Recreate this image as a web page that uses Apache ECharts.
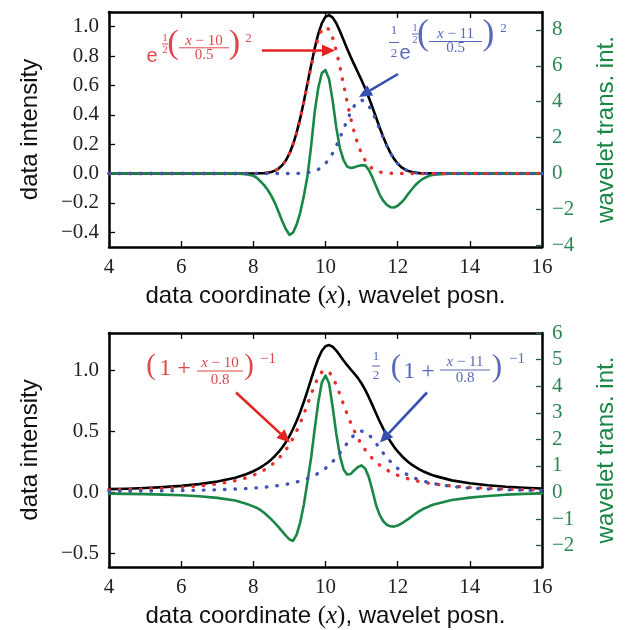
<!DOCTYPE html>
<html><head><meta charset="utf-8">
<script src="https://cdn.jsdelivr.net/npm/echarts@6/dist/echarts.min.js"></script>
<style>html,body{margin:0;padding:0;background:#fff}#c{width:630px;height:630px}</style>
</head><body><div id="c"></div>
<script>
// ---------- data ----------
const xs = [4,4.5,5,5.5,6,6.5,7,7.5,7.8,
 8,8.1,8.2,8.3,8.4,8.5,8.6,8.7,8.8,8.9,
 9,9.1,9.2,9.3,9.4,9.5,9.6,9.7,9.8,9.9,
 10,10.1,10.2,10.3,10.4,10.5,10.6,10.7,10.8,10.9,
 11,11.1,11.2,11.3,11.4,11.5,11.6,11.7,11.8,11.9,
 12,12.1,12.2,12.3,12.4,12.5,12.6,12.7,12.8,12.9,
 13,13.5,14,14.5,15,15.5,16];

// top panel (Gaussian peaks)
const topBlack = [0,0,0,0,0,0,0,0,0,
 0.000,0.001,0.002,0.003,0.006,0.011,0.020,0.034,0.056,0.089,
 0.135,0.199,0.279,0.377,0.490,0.613,0.736,0.852,0.951,1.024,
 1.068,1.079,1.062,1.023,0.969,0.910,0.850,0.793,0.740,0.688,
 0.635,0.579,0.518,0.452,0.383,0.314,0.249,0.191,0.141,0.100,
 0.068,0.044,0.028,0.017,0.010,0.006,0.003,0.002,0.001,0.001,
 0,0,0,0,0,0,0];
const topRed = [0,0,0,0,0,0,0,0,0,
 0.000,0.001,0.002,0.003,0.006,0.011,0.020,0.034,0.056,0.089,
 0.135,0.198,0.278,0.375,0.487,0.607,0.726,0.835,0.923,0.980,
 1.000,0.980,0.923,0.835,0.726,0.607,0.487,0.375,0.278,0.198,
 0.135,0.089,0.056,0.034,0.020,0.011,0.006,0.003,0.002,0.001,
 0,0,0,0,0,0,0,0,0,0,
 0,0,0,0,0,0,0];
const topBlue = [0,0,0,0,0,0,0,0,0,
 0,0,0,0,0,0,0,0,0,0,
 0.000,0.001,0.001,0.002,0.003,0.006,0.010,0.017,0.028,0.044,
 0.068,0.099,0.139,0.188,0.243,0.303,0.363,0.418,0.462,0.490,
 0.500,0.490,0.462,0.418,0.363,0.303,0.243,0.188,0.139,0.099,
 0.068,0.044,0.028,0.017,0.010,0.006,0.003,0.002,0.001,0.001,
 0,0,0,0,0,0,0];
const topGreen = [0,0,0,0,0,0,0,0,-0.04,
 -0.13,-0.25,-0.45,-0.65,-0.92,-1.25,-1.65,-2.15,-2.65,-3.10,
 -3.42,-3.30,-2.85,-2.18,-1.25,-0.15,1.50,3.42,4.78,5.60,
 5.76,5.25,4.03,2.54,1.40,0.75,0.38,0.30,0.34,0.42,
 0.46,0.45,0.20,-0.22,-0.70,-1.18,-1.52,-1.75,-1.88,-1.90,
 -1.80,-1.62,-1.40,-1.12,-0.87,-0.63,-0.45,-0.30,-0.20,-0.12,
 -0.07,0,0,0,0,0,0];

// bottom panel (Lorentzian peaks)
const botBlack = [0.024,0.028,0.034,0.041,0.051,0.065,0.086,0.118,0.146,
 0.171,0.186,0.203,0.222,0.243,0.268,0.296,0.329,0.366,0.409,
 0.459,0.517,0.583,0.657,0.740,0.830,0.923,1.014,1.095,1.158,
 1.195,1.205,1.191,1.160,1.120,1.079,1.040,1.005,0.971,0.934,
 0.890,0.838,0.778,0.713,0.646,0.581,0.520,0.465,0.415,0.371,
 0.333,0.300,0.271,0.245,0.223,0.204,0.187,0.171,0.158,0.146,
 0.135,0.096,0.072,0.056,0.044,0.036,0.030];
const botRed = [0.018,0.021,0.025,0.031,0.039,0.050,0.066,0.093,0.117,
 0.138,0.151,0.165,0.181,0.200,0.222,0.246,0.275,0.308,0.346,
 0.390,0.441,0.500,0.566,0.640,0.719,0.800,0.877,0.941,0.985,
 1.000,0.985,0.941,0.877,0.800,0.719,0.640,0.566,0.500,0.441,
 0.390,0.346,0.308,0.275,0.246,0.222,0.200,0.181,0.165,0.151,
 0.138,0.127,0.117,0.108,0.100,0.093,0.087,0.081,0.076,0.071,
 0.066,0.050,0.039,0.031,0.025,0.021,0.018];
const botBlue = [0.006,0.007,0.009,0.010,0.013,0.015,0.019,0.025,0.029,
 0.033,0.035,0.038,0.040,0.043,0.046,0.050,0.054,0.058,0.063,
 0.069,0.075,0.083,0.091,0.100,0.111,0.123,0.137,0.154,0.173,
 0.195,0.221,0.250,0.283,0.320,0.360,0.400,0.438,0.471,0.492,
 0.500,0.492,0.471,0.438,0.400,0.360,0.320,0.283,0.250,0.221,
 0.195,0.173,0.154,0.137,0.123,0.111,0.100,0.091,0.083,0.075,
 0.069,0.046,0.033,0.025,0.019,0.015,0.013];
const botGreen = [-0.04,-0.05,-0.06,-0.08,-0.10,-0.14,-0.20,-0.30,-0.42,
 -0.52,-0.58,-0.66,-0.76,-0.88,-1.01,-1.15,-1.30,-1.46,-1.62,
 -1.76,-1.82,-1.58,-1.12,-0.45,0.40,1.30,2.38,3.40,4.15,
 4.40,4.10,3.20,2.20,1.38,0.87,0.68,0.70,0.84,0.96,
 1.02,0.90,0.58,0.08,-0.47,-0.84,-1.08,-1.21,-1.27,-1.28,
 -1.24,-1.17,-1.08,-0.99,-0.89,-0.79,-0.70,-0.62,-0.56,-0.50,
 -0.45,-0.28,-0.19,-0.13,-0.08,-0.05,-0.03];

// tick values
const xTicks = [4,6,8,10,12,14,16];
const topLeftTicks = [-0.4,-0.2,0,0.2,0.4,0.6,0.8,1.0];
const topRightTicks = [-4,-2,0,2,4,6,8];
const botLeftTicks = [-0.5,0,0.5,1.0];
const botRightTicks = [-2,-1,0,1,2,3,4,5,6];

// ---------- styling ----------
const GREEN = '#1a8746', GREEN_T = '#2b8752';
const RED = '#e8302e', BLUE = '#3f55b4';
const RED_T = '#e0474b', BLUE_T = '#5869bb';
const SERIF = 'Liberation Serif', SANS = 'Liberation Sans';
const minus = v => (v < 0 ? '\u2212' : '');
const f1 = v => minus(v) + Math.abs(v).toFixed(1);
const f0 = v => minus(v) + Math.abs(Math.round(v));
const pair = a => xs.map((x, i) => [x, a[i]]);

function xAx(g, pos, showName) {
  return {
    gridIndex: g, type: 'value', min: xTicks[0], max: xTicks[xTicks.length-1], interval: 2,
    position: pos,
    axisLine: {show: true, onZero: false, lineStyle: {color: '#000', width: 2.5}},
    axisTick: {show: true, inside: true, length: 6, lineStyle: {color: '#000', width: 1.3}},
    axisLabel: {show: pos === 'bottom', margin: 10, fontFamily: SERIF, fontSize: 21, color: '#222'},
    splitLine: {show: false},
    name: showName ? 'data coordinate {m|(}{i|x}{m|)}, wavelet posn.' : '',
    nameLocation: 'middle', nameGap: 37,
    nameTextStyle: {fontFamily: SANS, fontSize: 24, color: '#111',
      rich: {m: {fontFamily: SERIF, fontSize: 25, color: '#111'},
             i: {fontFamily: SERIF, fontStyle: 'italic', fontSize: 25, color: '#111'}}}
  };
}
function yAx(g, pos, min, max, ticks, fmt, name, color, gap) {
  return {
    gridIndex: g, type: 'value', min: min, max: max, position: pos,
    axisLine: {show: true, onZero: false, lineStyle: {color: '#000', width: 2.5}},
    axisTick: {show: true, inside: true, length: 6, customValues: ticks,
      lineStyle: {color: pos === 'right' ? '#245c3c' : '#000', width: 1.3}},
    axisLabel: {show: true, customValues: ticks, formatter: fmt, margin: 10,
      fontFamily: SERIF, fontSize: 21, color: color},
    splitLine: {show: false},
    name: name, nameLocation: 'middle', nameRotate: 90, nameGap: gap,
    nameTextStyle: {fontFamily: SANS, fontSize: 24, color: pos === 'right' ? GREEN : '#111'}
  };
}

// ---------- annotations ----------
const G = [];
function T(x, y, text, size, color, fam, italic) {
  G.push({type: 'text', x: x, y: y, silent: true, z: 100,
    style: {text: text, fontSize: size, fontFamily: fam || SERIF, fontStyle: italic ? 'italic' : 'normal',
      fill: color, align: 'center', verticalAlign: 'middle',
      rich: {i: {fontFamily: SERIF, fontStyle: 'italic', fontSize: size, fill: color}}}});
}
function Bar(x1, x2, y, color) {
  G.push({type: 'line', silent: true, z: 100, shape: {x1: x1, y1: y, x2: x2, y2: y}, style: {stroke: color, lineWidth: 1}});
}
function Paren(x, cy, h, ch, color) {
  const s = h / 0.9;
  T(x, cy - 0.11 * s, ch, s, color, SERIF);
}
function Arrow(x1, y1, x2, y2, color) {
  const dx = x2 - x1, dy = y2 - y1, L = Math.hypot(dx, dy), ux = dx / L, uy = dy / L;
  const h = 13, w = 6, bx = x2 - ux * h, by = y2 - uy * h;
  G.push({type: 'line', silent: true, z: 100, shape: {x1: x1, y1: y1, x2: bx, y2: by}, style: {stroke: color, lineWidth: 2.6}});
  G.push({type: 'polygon', silent: true, z: 100,
    shape: {points: [[x2, y2], [bx - uy * w, by + ux * w], [bx + uy * w, by - ux * w]]}, style: {fill: color}});
}

// top red: e^{1/2((x-10)/0.5)^2}
T(152, 56, 'e', 20, RED_T, SANS);
T(165, 38.5, '1', 11, RED_T); Bar(162, 168, 44, RED_T); T(165, 50, '2', 11, RED_T);
Paren(173, 48, 31, '(', RED_T);
T(204, 41.5, '{i|x} \u2212 10', 15, RED_T); Bar(179, 229, 47.8, RED_T); T(204, 55.5, '0.5', 15, RED_T);
Paren(234.5, 48, 31, ')', RED_T);
T(248.5, 38.5, '2', 13, RED_T);
Arrow(262, 50.5, 335, 50.5, '#e52521');

// top blue: 1/2 e^{1/2((x-11)/0.5)^2}
T(394, 31, '1', 13, BLUE_T); Bar(389, 399, 42.5, BLUE_T); T(394, 54, '2', 13, BLUE_T);
T(405, 53, 'e', 20, BLUE_T, SANS);
T(415, 28.5, '1', 10, BLUE_T); Bar(412, 418, 34, BLUE_T); T(415, 40, '2', 10, BLUE_T);
Paren(423, 39, 32, '(', BLUE_T);
T(455.5, 34.5, '{i|x} \u2212 11', 15, BLUE_T); Bar(429, 482, 41.5, BLUE_T); T(455.5, 48, '0.5', 15, BLUE_T);
Paren(488.5, 39, 32, ')', BLUE_T);
T(503.5, 29, '2', 13, BLUE_T);
Arrow(398, 74, 359, 97, '#3550b0');

// bottom red: (1 + (x-10)/0.8)^{-1}
Paren(151, 370, 26, '(', RED_T);
T(175, 368.6, '1 +', 24, RED_T);
T(220, 363.5, '{i|x} \u2212 10', 15, RED_T); Bar(197, 243, 371, RED_T); T(220, 380, '0.8', 15, RED_T);
Paren(249, 370, 26, ')', RED_T);
T(268, 359.5, '\u22121', 15, RED_T);
Arrow(236, 392.5, 290, 442.5, '#e52521');

// bottom blue: 1/2 (1 + (x-11)/0.8)^{-1}
T(376, 356.5, '1', 13, BLUE_T); Bar(372, 380, 366, BLUE_T); T(376, 376, '2', 13, BLUE_T);
Paren(396, 371, 28, '(', BLUE_T);
T(419, 371.9, '1 +', 24, BLUE_T);
T(465, 362.5, '{i|x} \u2212 11', 15, BLUE_T); Bar(440, 490, 370, BLUE_T); T(465, 378.5, '0.8', 15, BLUE_T);
Paren(497, 371, 28, ')', BLUE_T);
T(517, 359, '\u22121', 15, BLUE_T);
Arrow(427, 392.5, 380, 442.5, '#3550b0');

// ---------- chart ----------
function line(xi, yi, data, color, width, dotted, z) {
  return {type: 'line', xAxisIndex: xi, yAxisIndex: yi, data: pair(data), showSymbol: false,
    smooth: false, silent: true, z: z,
    lineStyle: dotted ? {color: color, width: 3.4, type: [0.5, 10], cap: 'round'}
                      : {color: color, width: width, join: 'round', cap: 'round'}};
}
const chart = echarts.init(document.getElementById('c'), null, {renderer: 'canvas'});
chart.setOption({
  animation: false,
  backgroundColor: '#fff',
  grid: [
    {left: 109, right: 88, top: 12, height: 235},
    {left: 109, right: 88, top: 333, height: 236}
  ],
  xAxis: [xAx(0, 'bottom', true), xAx(0, 'top', false), xAx(1, 'bottom', true), xAx(1, 'top', false)],
  yAxis: [
    yAx(0, 'left', -0.5, 1.1, topLeftTicks, f1, 'data intensity', '#222', 67),
    yAx(0, 'right', -4.1, 9.0, topRightTicks, f0, 'wavelet trans. int.', GREEN_T, 52),
    yAx(1, 'left', -0.614, 1.304, botLeftTicks, f1, 'data intensity', '#222', 67),
    yAx(1, 'right', -2.8, 6.0, botRightTicks, f0, 'wavelet trans. int.', GREEN_T, 52)
  ],
  series: [
    line(0, 0, topBlack, '#000', 2.6, false, 2),
    line(0, 1, topGreen, GREEN, 2.6, false, 3),
    line(0, 0, topRed, RED, 0, true, 4),
    line(0, 0, topBlue, BLUE, 0, true, 4),
    line(2, 2, botBlack, '#000', 2.6, false, 2),
    line(2, 3, botGreen, GREEN, 2.6, false, 3),
    line(2, 2, botRed, RED, 0, true, 4),
    line(2, 2, botBlue, BLUE, 0, true, 4)
  ],
  graphic: G
});
</script></body></html>
